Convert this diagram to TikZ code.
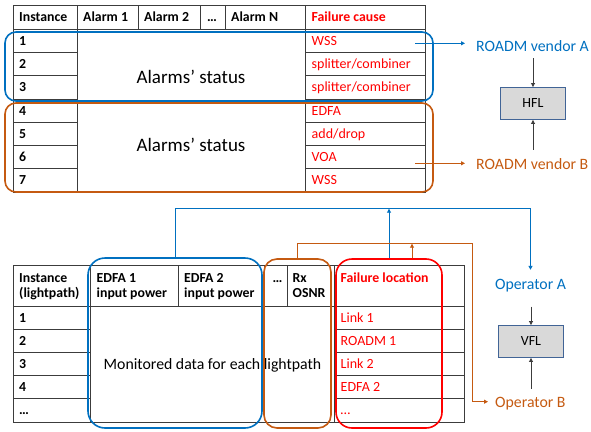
\documentclass[tikz,border=0pt]{standalone}
\usepackage{fontspec}
\setmainfont{Carlito}
\usepackage{tikz}
\usetikzlibrary{arrows.meta}

\definecolor{vendA}{RGB}{0,112,192}
\definecolor{vendB}{RGB}{197,90,17}
\definecolor{failred}{RGB}{255,0,0}
\definecolor{gridline}{RGB}{60,60,60}
\definecolor{boxedge}{RGB}{65,100,150}
\definecolor{boxfill}{RGB}{217,217,217}

\begin{document}
\begin{tikzpicture}[x=1pt,y=-1pt,
  grid/.style={color=gridline,line width=0.8pt},
  cell/.style={anchor=west,inner sep=0pt,text height=9pt,text depth=0pt,
    font=\fontsize{14}{16}\selectfont},
  head/.style={cell,font=\fontsize{13.8}{16}\selectfont\bfseries},
  big/.style={inner sep=0pt,text height=11pt,text depth=0pt,
    font=\fontsize{15.8}{18}\selectfont},
  group/.style={draw,line width=1.6pt,rounded corners=#1},
  fnbox/.style={draw=boxedge,fill=boxfill,line width=0.9pt,minimum width=65pt,
    minimum height=32pt,font=\fontsize{14}{16}\selectfont},
  tip/.style={-{Triangle[length=4pt,width=4pt]}},
  link/.style={tip,line width=0.9pt}]
  \useasboundingbox (0,0) rectangle (591,431);

  \draw[grid] (13,5) rectangle (425,192);
  \draw[grid] (13,29) -- (425,29);
  \foreach \x in {138,200,225} \draw[grid] (\x,5) -- (\x,29);
  \foreach \x in {77,305} \draw[grid] (\x,5) -- (\x,192);
  \foreach \y in {52.3,75.6,98.9,122.1,145.4,168.7} {
    \draw[grid] (13,\y) -- (77,\y);
    \draw[grid] (305,\y) -- (425,\y);
  }

  \node[head] (alInst) at (19,17) {Instance};
  \node[head] (alOne) at (83,17) {Alarm 1};
  \node[head] (alTwo) at (144,17) {Alarm 2};
  \node[head] (alDots) at (207,17) {…};
  \node[head] (alN) at (231,17) {Alarm N};
  \node[head,text=failred] (alCause) at (311.5,17) {Failure cause};
  \foreach \c [count=\i] in {WSS,{splitter/combiner},{splitter/combiner},EDFA,{add/drop},VOA,WSS} {
    \node[head] (alRow\i) at (19,{29+23.29*(\i-0.5)}) {\i};
    \node[cell,text=failred] (alCause\i) at (311.5,{29+23.29*(\i-0.5)}) {\c};
  }
  \node[big,font=\fontsize{19}{22}\selectfont,text height=12pt] (statusA) at (191,77) {Alarms' status};
  \node[big,font=\fontsize{19}{22}\selectfont,text height=12pt] (statusB) at (191,145) {Alarms' status};

  \draw[grid] (13,265) rectangle (464,422);
  \draw[grid] (13,306) -- (464,306);
  \foreach \x in {178,264,287} \draw[grid] (\x,265) -- (\x,306);
  \foreach \x in {90,334} \draw[grid] (\x,265) -- (\x,422);
  \foreach \y in {329.2,352.4,375.6,398.8} {
    \draw[grid] (13,\y) -- (90,\y);
    \draw[grid] (334,\y) -- (464,\y);
  }

  \node[head] (lpInst) at (19,277.5) {Instance};
  \node[head] (lpInstB) at (19,293) {(lightpath)};
  \node[head] (lpOne) at (96.5,277.5) {EDFA 1};
  \node[head] (lpOneB) at (96.5,293) {input power};
  \node[head] (lpTwo) at (184,277.5) {EDFA 2};
  \node[head] (lpTwoB) at (184,293) {input power};
  \node[head] (lpDots) at (272.5,277.5) {…};
  \node[head] (lpRx) at (292.5,277.5) {Rx};
  \node[head] (lpRxB) at (292.5,293) {OSNR};
  \node[head,text=failred] (lpLoc) at (340.5,277.5) {Failure location};
  \foreach \n/\l [count=\i] in {1/Link 1,2/ROADM 1,3/Link 2,4/EDFA 2,…/…} {
    \node[head] (lpRow\i) at (19,{306+23.2*(\i-0.5)}) {\n};
    \node[cell,text=failred] (lpLoc\i) at (340.5,{306+23.2*(\i-0.5)}) {\l};
  }
  \node[big] (monitored) at (212.5,364) {Monitored data for each lightpath};

  \node[group=11pt,draw=vendA,minimum width=428pt,minimum height=69pt] (grpA) at (219,66.5) {};
  \node[group=11pt,draw=vendB,minimum width=428pt,minimum height=89pt] (grpB) at (219,147.5) {};
  \node[group=17pt,draw=vendA,minimum width=174pt,minimum height=170pt] (grpOpA) at (175,343) {};
  \node[group=13pt,draw=vendB,minimum width=67pt,minimum height=169pt] (grpOpB) at (297.5,343.5) {};
  \node[group=16pt,draw=failred,minimum width=106pt,minimum height=169pt] (grpLoc) at (389,343.5) {};

  \node[big,anchor=west,text=vendA] (vendorA) at (476,45.5) {ROADM vendor A};
  \node[big,anchor=west,text=vendB] (vendorB) at (476,163.5) {ROADM vendor B};
  \node[fnbox] (hfl) at (533,103.5) {HFL};
  \coordinate (tapA) at (415,43.3);
  \coordinate (tapB) at (415,163.3);
  \draw[link,vendA,shorten >=11pt] (tapA) -- (tapA -| vendorA.west);
  \draw[link,vendB,shorten >=11pt] (tapB) -- (tapB -| vendorB.west);
  \draw[link,gridline,shorten <=7pt] (vendorA.south -| hfl.north) -- (hfl.north);
  \draw[link,gridline,shorten <=8pt] (vendorB.north -| hfl.south) -- (hfl.south);

  \node[big,text=vendA] (opA) at (530.5,284) {Operator A};
  \node[big,anchor=west,text=vendB] (opB) at (495,401.7) {Operator B};
  \node[fnbox] (vfl) at (531,341.5) {VFL};
  \draw[link,vendA,shorten >=8.5pt] (grpOpA.north) -- ++(0,-49) -| (opA.north);
  \draw[link,vendA] (grpLoc.north) -- ++(0,-49.5);
  \draw[link,vendB,shorten >=7pt] (grpOpB.north) -- ++(0,-15) -| (472,401.7) -- (opB.west);
  \draw[link,vendB] ([xshift=23pt]grpLoc.north) -- ++(0,-14.5);
  \draw[link,gridline,shorten <=17pt] (opA.south -| vfl.north) -- (vfl.north);
  \draw[link,gridline,shorten <=7.5pt] (opB.north -| vfl.south) -- (vfl.south);
\end{tikzpicture}
\end{document}
